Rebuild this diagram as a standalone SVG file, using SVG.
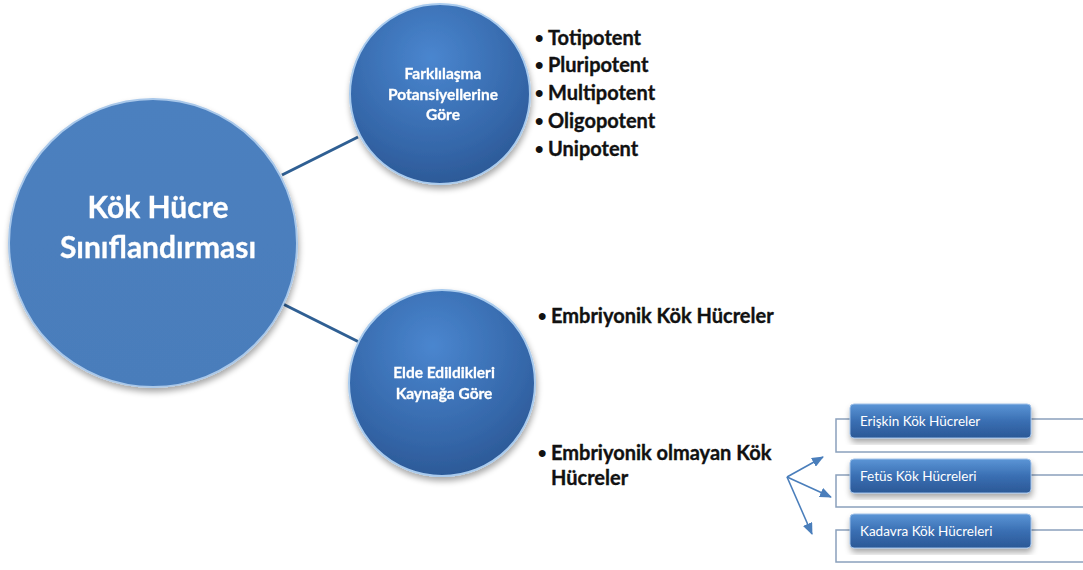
<svg xmlns="http://www.w3.org/2000/svg" width="1083" height="570" viewBox="0 0 1083 570">
<defs>
<radialGradient id="gSmall" cx="0.45" cy="0.3" r="0.75">
<stop offset="0" stop-color="#4a86cf"/>
<stop offset="0.7" stop-color="#3466a8"/>
<stop offset="1" stop-color="#2a5693"/>
</radialGradient>
<linearGradient id="gBig" x1="0" y1="0" x2="0" y2="1">
<stop offset="0" stop-color="#4c80bf"/>
<stop offset="1" stop-color="#4a7dbb"/>
</linearGradient>
<linearGradient id="gBox" x1="0" y1="0" x2="0" y2="1">
<stop offset="0" stop-color="#5b95d6"/>
<stop offset="0.5" stop-color="#3a6fb3"/>
<stop offset="1" stop-color="#2b5896"/>
</linearGradient>
<filter id="sh" x="-20%" y="-20%" width="140%" height="140%">
<feGaussianBlur in="SourceAlpha" stdDeviation="3"/>
<feOffset dx="1" dy="4" result="b"/>
<feComponentTransfer><feFuncA type="linear" slope="0.35"/></feComponentTransfer>
<feMerge><feMergeNode/><feMergeNode in="SourceGraphic"/></feMerge>
</filter>
<marker id="ah" markerWidth="12" markerHeight="10" refX="11" refY="5" orient="auto" markerUnits="userSpaceOnUse">
<path d="M0,0 L12,5 L0,10 Z" fill="#4a7ebb"/>
</marker>
</defs>
<style>
.ctext{font-family:Lato,"Open Sans",sans-serif;font-weight:bold;fill:#ffffff;text-anchor:middle;stroke:#ffffff;stroke-width:0.3}
.btext{font-family:Lato,"Open Sans",sans-serif;font-weight:bold;fill:#111111;font-size:20px;stroke:#111111;stroke-width:0.35}
.bul{font-family:"Liberation Sans",sans-serif;font-weight:bold;fill:#111111;font-size:24px}
.boxtext{font-family:Lato,"Open Sans",sans-serif;fill:#ffffff;font-size:13.5px}
.conn{stroke:#2f5f93;stroke-width:3;fill:none}
.arr{stroke:#4a7ebb;stroke-width:1.6;fill:none}
.outer{fill:#ffffff;stroke:#8aa0bc;stroke-width:1.5}
.inner{fill:url(#gBox);stroke:#9fc0e8;stroke-width:1}
</style>
<rect width="1083" height="570" fill="#ffffff"/>
<g id="connectors">
<line class="conn" x1="282" y1="175" x2="358" y2="137"/>
<line class="conn" x1="283" y1="304" x2="359" y2="342"/>
<line class="arr" x1="787" y1="477" x2="823" y2="457" marker-end="url(#ah)"/>
<line class="arr" x1="787" y1="477" x2="831" y2="497" marker-end="url(#ah)"/>
<line class="arr" x1="787" y1="477" x2="812" y2="534" marker-end="url(#ah)"/>
</g>
<g id="node-root" filter="url(#sh)">
<circle cx="153" cy="243" r="144" fill="url(#gBig)" stroke="#a9c8ea" stroke-width="2"/>
<text class="ctext" x="158" y="218" font-size="30">Kök Hücre</text>
<text class="ctext" x="158" y="258" font-size="30">Sınıflandırması</text>
</g>
<g id="node-farklilasma" filter="url(#sh)">
<circle cx="440" cy="94" r="90" fill="url(#gSmall)" stroke="#a9cbee" stroke-width="2"/>
<text class="ctext" x="443" y="79" font-size="15.5">Farklılaşma</text>
<text class="ctext" x="443" y="100" font-size="15.5">Potansiyellerine</text>
<text class="ctext" x="443" y="120" font-size="15.5">Göre</text>
</g>
<g id="node-kaynak" filter="url(#sh)">
<circle cx="442" cy="383" r="93" fill="url(#gSmall)" stroke="#a9cbee" stroke-width="2"/>
<text class="ctext" x="444" y="378" font-size="15.5">Elde Edildikleri</text>
<text class="ctext" x="444" y="399" font-size="15.5">Kaynağa Göre</text>
</g>
<g id="list-potansiyel">
<text class="bul" x="535" y="46">•</text><text class="btext" x="548" y="45">Totipotent</text>
<text class="bul" x="535" y="73">•</text><text class="btext" x="548" y="72">Pluripotent</text>
<text class="bul" x="535" y="101">•</text><text class="btext" x="548" y="100">Multipotent</text>
<text class="bul" x="535" y="129">•</text><text class="btext" x="548" y="128">Oligopotent</text>
<text class="bul" x="535" y="157">•</text><text class="btext" x="548" y="156">Unipotent</text>
</g>
<g id="list-kaynak">
<text class="bul" x="538" y="324">•</text><text class="btext" x="551" y="323">Embriyonik Kök Hücreler</text>
<text class="bul" x="538" y="461">•</text><text class="btext" x="551" y="460">Embriyonik olmayan Kök</text>
<text class="btext" x="551" y="485">Hücreler</text>
</g>
<g id="node-eriskin">
<rect class="outer" x="836" y="419" width="260" height="33"/>
<rect class="inner" x="850" y="404" width="181" height="34" rx="4" filter="url(#sh)"/>
<text class="boxtext" x="860" y="426">Erişkin Kök Hücreler</text>
</g>
<g id="node-fetus">
<rect class="outer" x="836" y="475" width="260" height="32"/>
<rect class="inner" x="850" y="459" width="181" height="34" rx="4" filter="url(#sh)"/>
<text class="boxtext" x="860" y="481">Fetüs Kök Hücreleri</text>
</g>
<g id="node-kadavra">
<rect class="outer" x="836" y="530" width="260" height="32"/>
<rect class="inner" x="850" y="514" width="181" height="34" rx="4" filter="url(#sh)"/>
<text class="boxtext" x="860" y="536">Kadavra Kök Hücreleri</text>
</g>
</svg>
